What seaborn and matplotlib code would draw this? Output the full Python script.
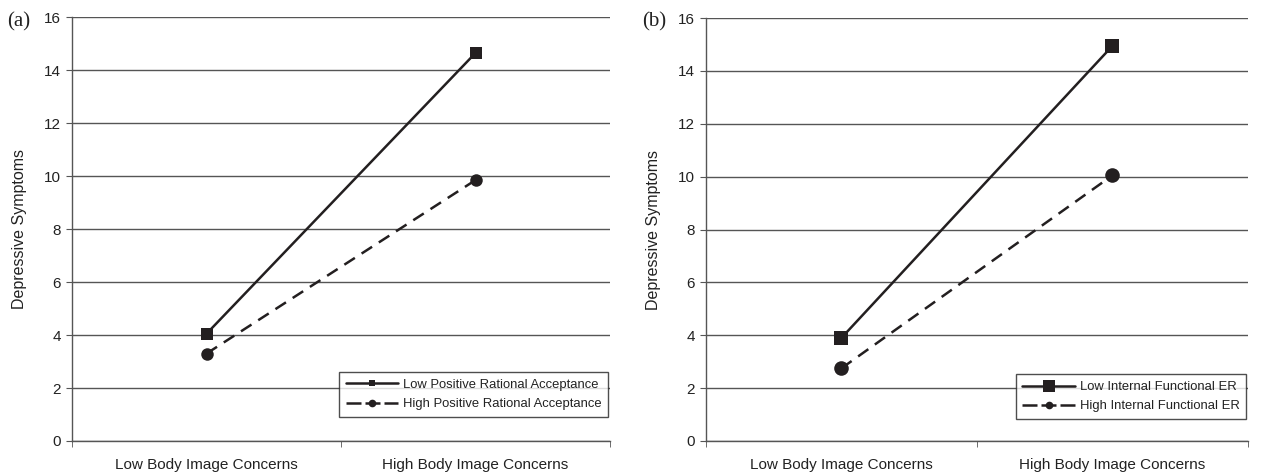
import matplotlib
matplotlib.use("Agg")
import matplotlib.pyplot as plt
import seaborn as sns
import pandas as pd

categories = ["Low Body Image Concerns", "High Body Image Concerns"]

series_a = ["Low Positive Rational Acceptance", "High Positive Rational Acceptance"]
values_a_low = [4.05, 14.65]
values_a_high = [3.3, 9.85]

series_b = ["Low Internal Functional ER", "High Internal Functional ER"]
values_b_low = [3.9, 14.95]
values_b_high = [2.75, 10.05]

yticks = [0, 2, 4, 6, 8, 10, 12, 14, 16]

sns.set_style("ticks")
plt.rcParams['font.family'] = ['Liberation Sans', 'DejaVu Sans']

ink = "#231f20"
gridc = "#555555"


def make_df(names, low_vals, high_vals):
    rows = []
    for name, vals in zip(names, [low_vals, high_vals]):
        for i, (cat, v) in enumerate(zip(categories, vals)):
            rows.append({"pos": i, "category": cat, "series": name, "value": v})
    return pd.DataFrame(rows)


fig = plt.figure(figsize=(12.64, 4.73), dpi=100)
ax_a = fig.add_axes([0.057, 0.0677, 0.4256, 0.896])
ax_b = fig.add_axes([0.5585, 0.0677, 0.4288, 0.894])


def draw(ax, names, low_vals, high_vals, msize, leg_sizes, legend_anchor):
    df = make_df(names, low_vals, high_vals)
    sns.lineplot(data=df, x="pos", y="value", hue="series", style="series",
                 hue_order=names, style_order=names,
                 palette={names[0]: ink, names[1]: ink},
                 markers={names[0]: "s", names[1]: "o"},
                 dashes={names[0]: "", names[1]: (5, 3.2)},
                 markersize=msize, markeredgewidth=0, linewidth=1.8, ax=ax,
                 zorder=3)
    ax.set_xlim(-0.5, 1.5)
    ax.set_ylim(0, 16)
    ax.set_yticks(yticks)
    ax.set_yticklabels([str(t) for t in yticks], fontsize=11, color="#222222")
    ax.yaxis.grid(True, color=gridc, linewidth=1.0)
    ax.set_axisbelow(True)
    ax.set_xticks([0, 1])
    ax.set_xticklabels(categories, fontsize=11, color="#222222")
    ax.set_xticks([-0.5, 0.5, 1.5], minor=True)
    ax.tick_params(axis="x", which="major", length=0, pad=12)
    ax.tick_params(axis="x", which="minor", length=4, direction="out", color=gridc)
    ax.tick_params(axis="y", length=4, direction="out", color=gridc, pad=4)
    ax.set_xlabel("")
    ax.set_ylabel("Depressive Symptoms", fontsize=11.5, color="#222222", labelpad=12)
    for s in ["top", "right"]:
        ax.spines[s].set_visible(False)
    ax.spines["left"].set_color(gridc)
    ax.spines["bottom"].set_color(gridc)
    ax.spines["left"].set_linewidth(1.0)
    ax.spines["bottom"].set_linewidth(1.0)
    leg = ax.legend(loc="lower right", bbox_to_anchor=legend_anchor, frameon=True,
                    fancybox=False, edgecolor="#222222", fontsize=9.4,
                    handlelength=4.0, borderpad=0.5, labelspacing=0.55,
                    handletextpad=0.4, borderaxespad=0)
    leg.get_frame().set_linewidth(1.0)
    for t in leg.get_texts():
        t.set_color("#222222")
    for h, s in zip(leg.legend_handles, leg_sizes):
        h.set_markersize(s)
    leg.legend_handles[1].set_dashes((6, 1.6))


draw(ax_a, series_a, values_a_low, values_a_high, 9, (5, 5.5), (0.997, 0.057))
draw(ax_b, series_b, values_b_low, values_b_high, 10.5, (8, 5.5), (0.997, 0.052))

serif = ["Liberation Serif", "DejaVu Serif"]
fig.text(0.006, 0.953, "(a)", fontsize=15, family=serif, color="#222222", va="center")
fig.text(0.508, 0.953, "(b)", fontsize=15, family=serif, color="#222222", va="center")

fig.savefig("out.png", dpi=100)
